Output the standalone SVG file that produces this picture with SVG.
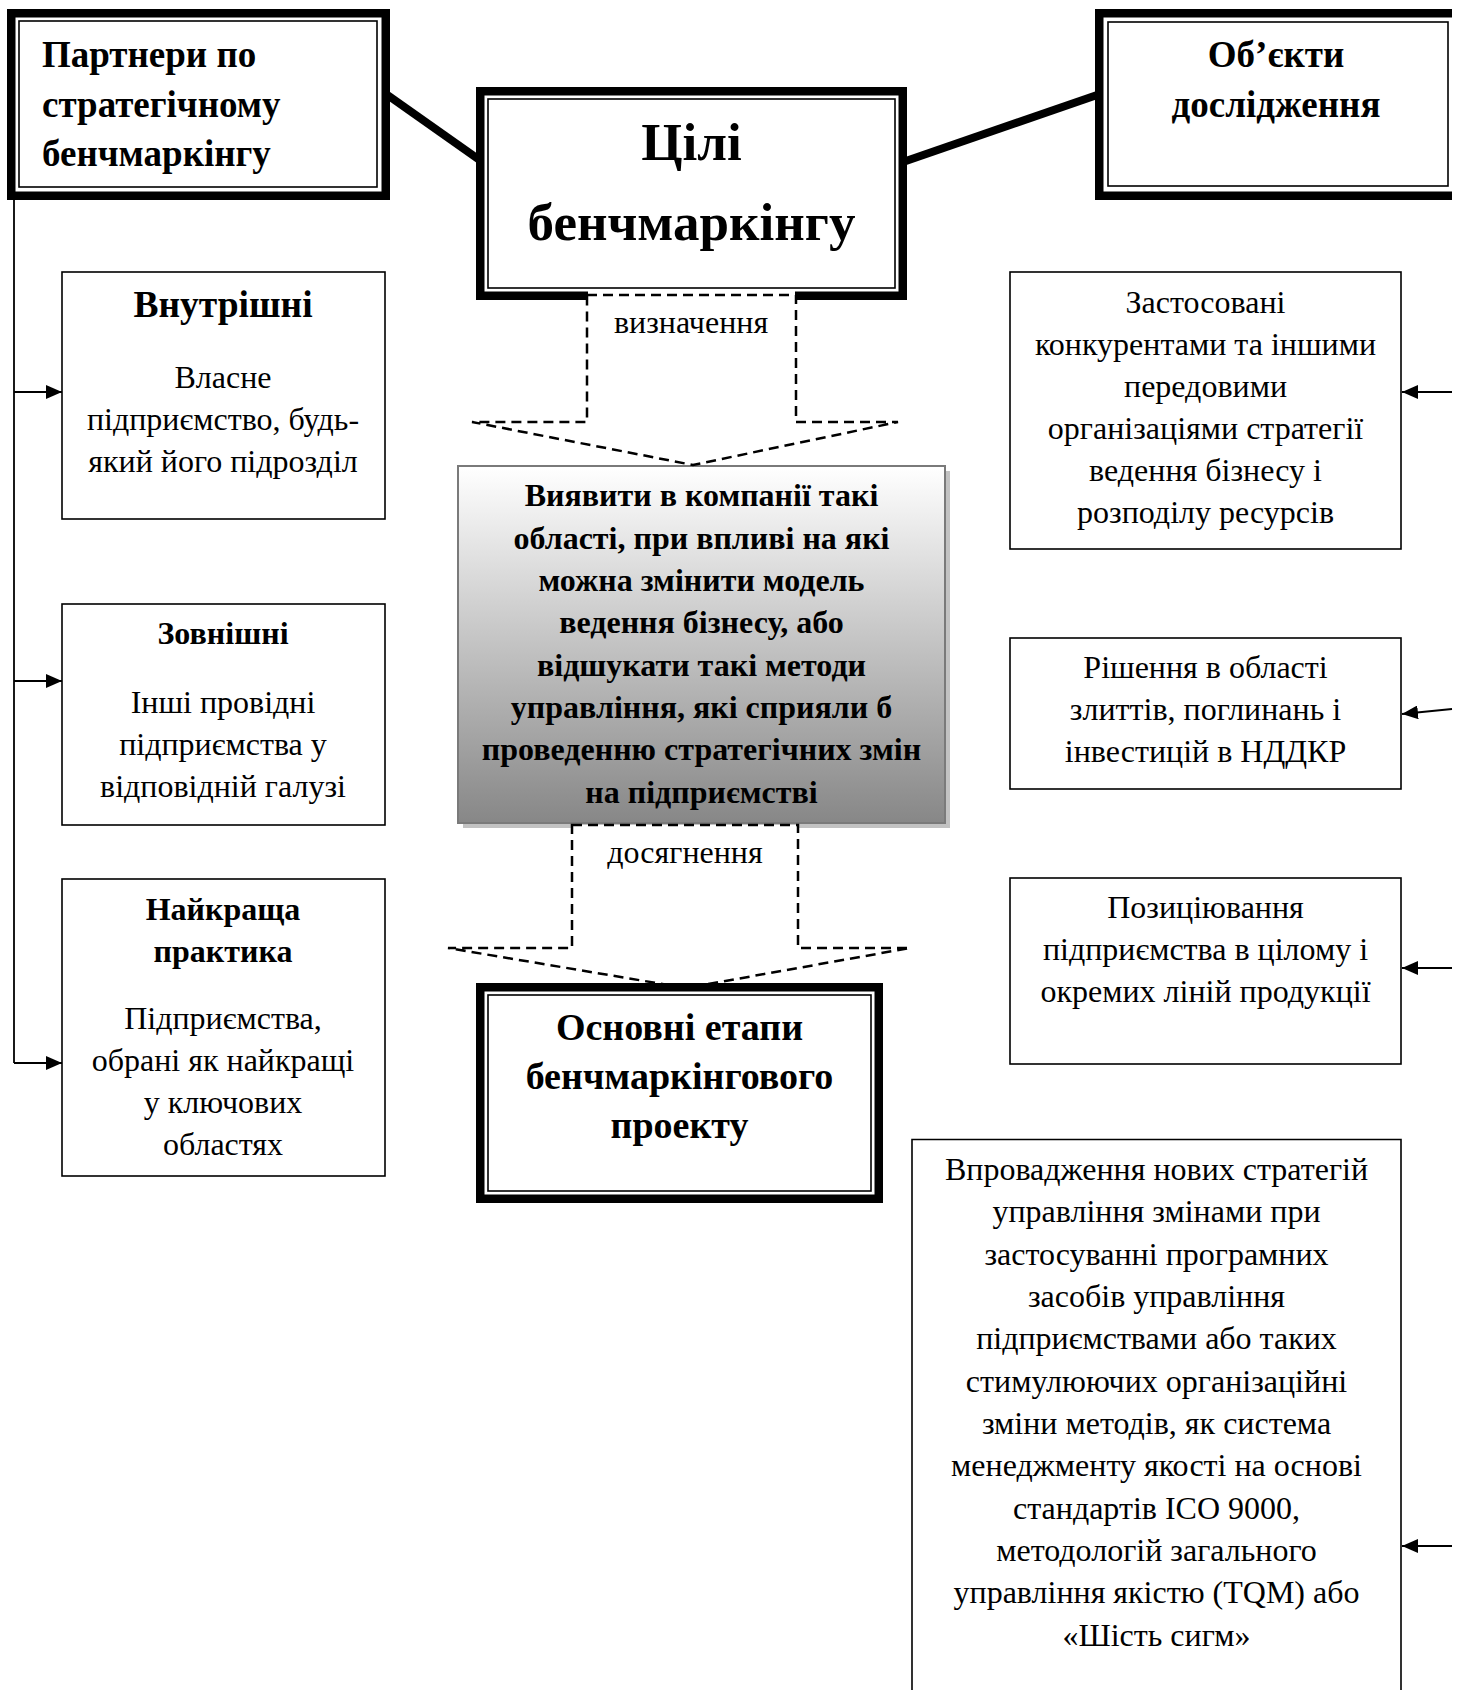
<svg xmlns="http://www.w3.org/2000/svg" width="1463" height="1690" viewBox="0 0 1463 1690">
<style>
text{font-family:"Liberation Serif","Times New Roman",serif;fill:#000;text-anchor:middle}
.b{font-weight:bold}
.big{font-size:53px}
.h1{font-size:37px}
.h1l{font-size:37.5px}
.h2{font-size:38px}
.h3{font-size:32px}
.t{font-size:32px}
.g{font-size:32px;font-weight:bold}
.thick{fill:none;stroke:#000;stroke-width:8.5}
.thin{fill:none;stroke:#000;stroke-width:1.6}
.box{fill:#fff;stroke:#000;stroke-width:1.6}
.dash{fill:#fff;stroke:#000;stroke-width:2.5;stroke-dasharray:10 6}
.ln{fill:none;stroke:#000;stroke-width:1.8}
.heavy{fill:none;stroke:#000;stroke-width:8}
</style>
<defs>
<linearGradient id="gr" x1="0" y1="0" x2="0" y2="1">
<stop offset="0" stop-color="#ffffff"/>
<stop offset="1" stop-color="#878787"/>
</linearGradient>
<marker id="ah" markerUnits="userSpaceOnUse" markerWidth="16" markerHeight="14" refX="16" refY="7" orient="auto">
<path d="M0,0 L16,7 L0,14 Z" fill="#000"/>
</marker>
</defs>
<rect x="0" y="0" width="1463" height="1690" fill="#fff"/>

<g id="node-partners">
<rect class="thick" x="11.25" y="13.25" width="374.5" height="182.5"/>
<rect class="thin" x="19" y="21" width="358" height="166"/>
<text class="b h1" x="42" y="67" style="text-anchor:start">Партнери по</text>
<text class="b h1" x="42" y="116.5" style="text-anchor:start">стратегічному</text>
<text class="b h1" x="42" y="166" style="text-anchor:start">бенчмаркінгу</text>
</g>

<g id="node-goals">
<rect class="thick" x="480.25" y="91.25" width="422.5" height="204.5"/>
<rect class="thin" x="488" y="99" width="407" height="189"/>
<text class="b big" x="691.5" y="160">Цілі</text>
<text class="b big" x="691.5" y="240">бенчмаркінгу</text>
</g>

<g id="node-objects">
<path class="thick" d="M1452,13.25 H1099.25 V195.75 H1452"/>
<rect class="thin" x="1108" y="22" width="340" height="164"/>
<text class="b h1" x="1276" y="67">Об’єкти</text>
<text class="b h1" x="1276" y="117">дослідження</text>
</g>

<g id="node-goal-text">
<rect x="463" y="471" width="487" height="357" fill="#c2c2c2"/>
<rect x="458" y="466" width="487" height="357" fill="url(#gr)" stroke="#7a7a7a" stroke-width="2"/>
<text class="g" x="701.5" y="506">Виявити в компанії такі</text>
<text class="g" x="701.5" y="549">області, при впливі на які</text>
<text class="g" x="701.5" y="591">можна змінити модель</text>
<text class="g" x="701.5" y="633">ведення бізнесу, або</text>
<text class="g" x="701.5" y="676">відшукати такі методи</text>
<text class="g" x="701.5" y="718">управління, які сприяли б</text>
<text class="g" x="701.5" y="760">проведенню стратегічних змін</text>
<text class="g" x="701.5" y="803">на підприємстві</text>
</g>

<g id="node-internal">
<rect class="box" x="62" y="272" width="323" height="247"/>
<text class="b h1l" x="223" y="317">Внутрішні</text>
<text class="t" x="223" y="388">Власне</text>
<text class="t" x="223" y="430">підприємство, будь-</text>
<text class="t" x="223" y="472">який його підрозділ</text>
</g>

<g id="node-external">
<rect class="box" x="62" y="604" width="323" height="221"/>
<text class="b h3" x="223" y="644">Зовнішні</text>
<text class="t" x="223" y="713">Інші провідні</text>
<text class="t" x="223" y="755">підприємства у</text>
<text class="t" x="223" y="797">відповідній галузі</text>
</g>

<g id="node-best">
<rect class="box" x="62" y="879" width="323" height="297"/>
<text class="b h3" x="223" y="920">Найкраща</text>
<text class="b h3" x="223" y="962">практика</text>
<text class="t" x="223" y="1029">Підприємства,</text>
<text class="t" x="223" y="1071">обрані як найкращі</text>
<text class="t" x="223" y="1113">у ключових</text>
<text class="t" x="223" y="1155">областях</text>
</g>

<g id="node-strategies">
<rect class="box" x="1010" y="272" width="391" height="277"/>
<text class="t" x="1205.5" y="313">Застосовані</text>
<text class="t" x="1205.5" y="355">конкурентами та іншими</text>
<text class="t" x="1205.5" y="397">передовими</text>
<text class="t" x="1205.5" y="439">організаціями стратегії</text>
<text class="t" x="1205.5" y="481">ведення бізнесу і</text>
<text class="t" x="1205.5" y="523">розподілу ресурсів</text>
</g>

<g id="node-mergers">
<rect class="box" x="1010" y="638" width="391" height="151"/>
<text class="t" x="1205.5" y="678">Рішення в області</text>
<text class="t" x="1205.5" y="720">злиттів, поглинань і</text>
<text class="t" x="1205.5" y="762">інвестицій в НДДКР</text>
</g>

<g id="node-positioning">
<rect class="box" x="1010" y="878" width="391" height="186"/>
<text class="t" x="1205.5" y="918">Позиціювання</text>
<text class="t" x="1205.5" y="960">підприємства в цілому і</text>
<text class="t" x="1205.5" y="1002">окремих ліній продукції</text>
</g>

<g id="node-implementation">
<path class="box" d="M912,1700 V1139.5 H1401 V1700"/>
<text class="t" x="1156.5" y="1180">Впровадження нових стратегій</text>
<text class="t" x="1156.5" y="1222">управління змінами при</text>
<text class="t" x="1156.5" y="1265">застосуванні програмних</text>
<text class="t" x="1156.5" y="1307">засобів управління</text>
<text class="t" x="1156.5" y="1349">підприємствами або таких</text>
<text class="t" x="1156.5" y="1392">стимулюючих організаційні</text>
<text class="t" x="1156.5" y="1434">зміни методів, як система</text>
<text class="t" x="1156.5" y="1476">менеджменту якості на основі</text>
<text class="t" x="1156.5" y="1519">стандартів ІСО 9000,</text>
<text class="t" x="1156.5" y="1561">методологій загального</text>
<text class="t" x="1156.5" y="1603">управління якістю (TQM) або</text>
<text class="t" x="1156.5" y="1646">«Шість сигм»</text>
</g>

<g id="connectors">
<line class="heavy" x1="386" y1="94" x2="481" y2="161"/>
<line class="heavy" x1="903" y1="162" x2="1100" y2="94"/>
<path class="ln" d="M14,200 V1063"/>
<path class="ln" d="M14,392 H62" marker-end="url(#ah)"/>
<path class="ln" d="M14,681 H62" marker-end="url(#ah)"/>
<path class="ln" d="M14,1063 H62" marker-end="url(#ah)"/>
<path class="ln" d="M1452,392 H1402" marker-end="url(#ah)"/>
<path class="ln" d="M1452,709 L1402,714" marker-end="url(#ah)"/>
<path class="ln" d="M1452,968 H1402" marker-end="url(#ah)"/>
<path class="ln" d="M1452,1546 H1402" marker-end="url(#ah)"/>
<g id="arrow-define">
<rect x="588" y="289" width="207" height="8" fill="#fff"/>
<path class="dash" d="M587,295 L796,295 L796,422 L898,422 L693,465 L472,422 L587,422 Z"/>
<text class="t" x="691" y="333">визначення</text>
</g>
<g id="arrow-achieve">
<path class="dash" d="M572,825 L798,825 L798,948 L910,948 L686,988 L448,948 L572,948 Z"/>
<text class="t" x="685" y="863">досягнення</text>
</g>
</g>

<g id="node-stages">
<rect class="thick" x="480.25" y="987.25" width="398.5" height="211.5"/>
<rect class="thin" x="488" y="995" width="383" height="196"/>
<text class="b h2" x="679.5" y="1040">Основні етапи</text>
<text class="b h2" x="679.5" y="1089">бенчмаркінгового</text>
<text class="b h2" x="679.5" y="1138">проекту</text>
</g>
</svg>
